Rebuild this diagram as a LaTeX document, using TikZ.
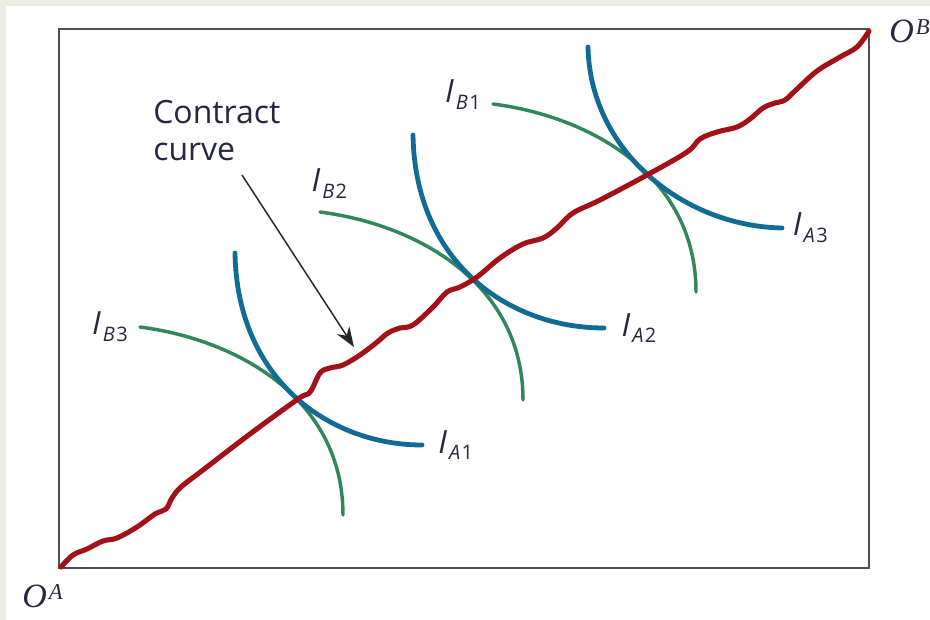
\documentclass[tikz,border=0pt]{standalone}
\usepackage{fontspec}
\setmainfont{Open Sans}
\newfontfamily\serifO{Liberation Serif}
\usetikzlibrary{arrows.meta,positioning}
\definecolor{ccred}{RGB}{163,16,24}
\definecolor{iablue}{RGB}{16,108,148}
\definecolor{ibgreen}{RGB}{50,134,92}
\definecolor{inkblue}{RGB}{38,40,66}
\definecolor{paper}{RGB}{238,235,225}
\definecolor{framegrey}{RGB}{80,80,80}
\newcommand{\ilabel}[2]{\textit{I}\kern1.5pt\raisebox{-5pt}{\fontsize{15}{15}\selectfont\textit{#1}\kern1pt#2}}
\newcommand{\origin}[1]{{\serifO\itshape\fontsize{25.5}{25}\selectfont O\kern1.5pt\raisebox{6pt}{\fontsize{17}{17}\selectfont #1}}}

\begin{document}
\begin{tikzpicture}[x=0.75pt,y=-0.75pt,font=\fontsize{24}{27.75}\selectfont,>=Stealth]
\tikzset{contract/.style={draw=ccred,line width=3.8pt,line cap=round,line join=round},
  indiffA/.style={draw=iablue,line width=3.6pt,line cap=round},
  indiffB/.style={draw=ibgreen,line width=2.6pt,line cap=round},
  lbl/.style={text=inkblue,inner sep=0pt}}
\fill[paper] (0,0) rectangle (930,620);
\fill[white] (6,6) rectangle (930,620);
\useasboundingbox (0,0) rectangle (930,620);
\draw[framegrey,line width=1.2pt] (59,29) rectangle (869,568);
% indifference curves of B
\foreach \dx/\dy/\k in {0/0/3,180/-115/2,353/-223/1}{
  \draw[indiffB,shift={(\dx,\dy)}] (140,327) coordinate (b\k) .. controls (240,340) and (343,400) .. (343,515);}
% indifference curves of A
\draw[indiffA] (235,253) .. controls (237,380) and (330,445) .. (422,445) coordinate (a1);
\draw[indiffA] (413,135) .. controls (415,262) and (508,328) .. (604,328) coordinate (a2);
\draw[indiffA] (588,47) .. controls (590,150) and (682,226) .. (782,228) coordinate (a3);
% contract curve
\draw[contract] plot[smooth,tension=0.6] coordinates {(61,567) (73,555) (87,549) (103,541) (117,538) (137,527) (155,514) (166,509) (172,498) (181,487) (203,470) (250,434) (298,399) (310,392) (320,373) (330,368) (343,365) (360,355) (376,343) (388,333) (400,328) (413,325) (433,307) (447,292) (460,287) (477,277) (500,258) (523,244) (543,238) (557,228) (573,213) (600,200) (647,175) (687,152) (700,139) (717,132) (737,127) (750,119) (763,108) (775,103) (785,100) (797,89) (817,71) (840,57) (857,47) (869,31)};
% labels
\node[lbl,left=9pt of b3] (lb3) {\ilabel{B}{3}};
\node[lbl,above=10pt of b2,xshift=7pt] (lb2) {\ilabel{B}{2}};
\node[lbl,left=9pt of b1,yshift=7pt] (lb1) {\ilabel{B}{1}};
\node[lbl,right=12pt of a1] (la1) {\ilabel{A}{1}};
\node[lbl,right=13pt of a2] (la2) {\ilabel{A}{2}};
\node[lbl,right=8pt of a3] (la3) {\ilabel{A}{3}};
\node[lbl,anchor=north west,align=left] (cc) at (153,100) {Contract\\curve};
\node[lbl,anchor=base west] (oa) at (22,607) {\origin{A}};
\node[lbl,anchor=base west] (ob) at (889,43) {\origin{B}};
\coordinate (tail) at (242,175);
\coordinate (tip) at (354,347);
\draw[->,>={Stealth[length=15pt,width=11pt]},line width=1.1pt,black!85] (tail) -- (tip);
\end{tikzpicture}
\end{document}
